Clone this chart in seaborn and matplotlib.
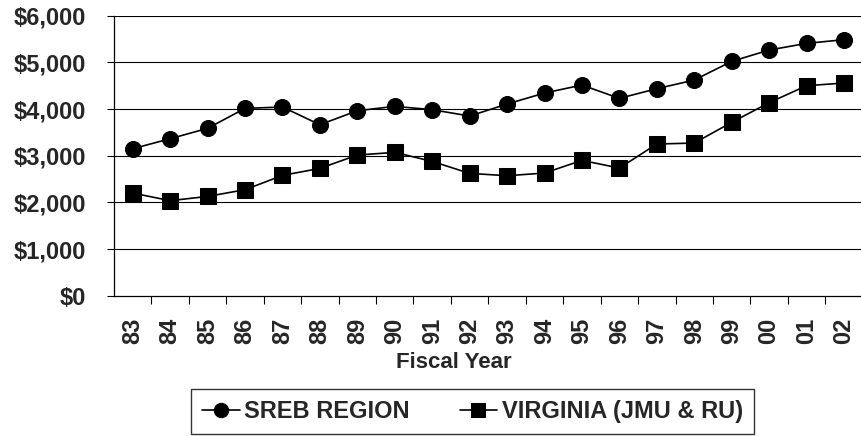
import matplotlib
matplotlib.use("Agg")
import matplotlib.pyplot as plt
import seaborn as sns
import pandas as pd
import numpy as np
from matplotlib.ticker import FuncFormatter, FixedLocator

years = ['83', '84', '85', '86', '87', '88', '89', '90', '91', '92',
         '93', '94', '95', '96', '97', '98', '99', '00', '01', '02']
sreb = [3150, 3364, 3586, 4014, 4043, 3664, 3964, 4057, 3986, 3850,
        4107, 4343, 4514, 4229, 4436, 4621, 5021, 5264, 5407, 5486]
virginia = [2200, 2036, 2128, 2271, 2578, 2728, 3014, 3071, 2878, 2621,
            2571, 2628, 2900, 2735, 3250, 3271, 3714, 4136, 4500, 4557]
series_names = ['SREB REGION', 'VIRGINIA (JMU & RU)']
y_ticks = [0, 1000, 2000, 3000, 4000, 5000, 6000]

sns.set_theme(style="white")
plt.rcParams['font.family'] = ['Liberation Sans', 'DejaVu Sans']
plt.rcParams['font.weight'] = 'bold'

FS = 17
fig = plt.figure(figsize=(8.62, 4.36), dpi=100)
ax = fig.add_axes([114 / 862, 1 - 295.7 / 436, 748.7 / 862, 280 / 436])

pos = np.arange(len(years))
df = pd.DataFrame({'pos': pos, 'sreb': sreb, 'va': virginia})

sns.lineplot(data=df, x='pos', y='sreb', ax=ax, color='black', lw=1.2,
             marker='o', markersize=11.5, markeredgecolor='black',
             markerfacecolor='black', label=series_names[0])
sns.lineplot(data=df, x='pos', y='va', ax=ax, color='black', lw=1.2,
             marker='s', markersize=11, markeredgecolor='black',
             markerfacecolor='black', label=series_names[1])

ax.set_xlim(-0.5, len(years) - 0.5)
ax.set_ylim(0, 6000)
ax.set_yticks(y_ticks)
ax.yaxis.set_major_formatter(FuncFormatter(lambda v, p: f"${int(v):,}"))
for yv in y_ticks[1:]:
    ax.axhline(yv, color='black', lw=0.8, zorder=0)

ax.set_xticks(pos)
ax.set_xticklabels(years, rotation=90, fontsize=FS, fontweight='bold')
ax.xaxis.set_minor_locator(FixedLocator(np.arange(0.5, len(years) - 0.5, 1)))
ax.tick_params(axis='x', which='major', length=0, pad=16)
ax.tick_params(axis='x', which='minor', length=6, width=0.8, color='black',
               direction='out', bottom=True)
ax.tick_params(axis='y', which='major', length=5, width=0.8, color='black',
               direction='out', left=True, pad=15, labelsize=FS)
for lab in ax.get_yticklabels():
    lab.set_fontweight('bold')

for s in ['top', 'right']:
    ax.spines[s].set_visible(False)
for s in ['left', 'bottom']:
    ax.spines[s].set_visible(True)
    ax.spines[s].set_color('black')
    ax.spines[s].set_linewidth(0.9)

ax.set_xlabel('')
ax.set_ylabel('')
fig.text(454 / 862, 1 - 362 / 436, 'Fiscal Year', ha='center', va='center',
         fontsize=16, fontweight='bold')

handles, labels = ax.get_legend_handles_labels()
ax.get_legend().remove()
leg = fig.legend(handles, labels, loc='center', ncol=2,
                 bbox_to_anchor=(472.5 / 862, 1 - 411.5 / 436),
                 prop={'size': FS, 'weight': 'bold'}, frameon=True,
                 fancybox=False, edgecolor='black', handlelength=1.6,
                 handletextpad=0.2, columnspacing=2.1, borderpad=0.45,
                 markerscale=0.9)
leg.get_frame().set_linewidth(1.0)

fig.savefig('out.png', dpi=100)
